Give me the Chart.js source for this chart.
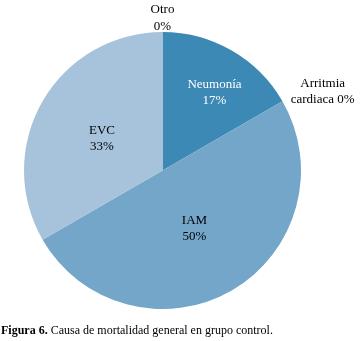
<!DOCTYPE html>
<html>
<head>
<meta charset="utf-8">
<script src="https://cdn.jsdelivr.net/npm/chart.js@4/dist/chart.umd.min.js"></script>
<style>
  body { margin:0; background:#fff; }
  #wrap { position:relative; width:360px; height:341px; }
  #caption { position:absolute; left:1px; top:323px; font-family:"Liberation Serif", serif; font-size:12px; color:#000; white-space:nowrap; }
</style>
</head>
<body>
<div id="wrap">
  <canvas id="pie-chart" width="360" height="341"></canvas>
  <div id="caption"><b>Figura 6.</b> Causa de mortalidad general en grupo control.</div>
</div>
<script>
categories = ['Neumonía', 'Arritmia cardiaca', 'IAM', 'EVC', 'Otro'];
values = [1, 0, 3, 2, 0];
percents = ['17%', '0%', '50%', '33%', '0%'];
colors = ['#3c89b6', '#73a6c9', '#73a6c9', '#a7c3dc', '#a7c3dc'];

// how the label text is split and where it sits (radius factor, angle nudge in degrees, colour)
labelLines = [['Neumonía', '17%'], ['Arritmia', 'cardiaca 0%'], ['IAM', '50%'], ['EVC', '33%'], ['Otro', '0%']];
labelRadius = [0.677, 1.29, 0.478, 0.494, 1.1];
labelNudge = [3.7, 3.7, 1.1, -2.1, 0];
labelColor = ['#ffffff', '#000', '#000', '#000', '#000'];

const pieLabels = {
  id: 'pieLabels',
  afterDatasetsDraw(chart) {
    const ctx = chart.ctx;
    const meta = chart.getDatasetMeta(0);
    ctx.save();
    ctx.font = '13px "Liberation Serif", serif';
    ctx.textAlign = 'center';
    ctx.textBaseline = 'middle';
    meta.data.forEach((arc, i) => {
      const p = arc.getProps(['x', 'y', 'startAngle', 'endAngle', 'outerRadius']);
      const mid = (p.startAngle + p.endAngle) / 2 + labelNudge[i] * Math.PI / 180;
      const r = p.outerRadius * labelRadius[i];
      const x = p.x + Math.cos(mid) * r;
      const y = p.y + Math.sin(mid) * r;
      ctx.fillStyle = labelColor[i];
      labelLines[i].forEach((line, k) => {
        ctx.fillText(line, x, y + (k - 0.5) * 16.5);
      });
    });
    ctx.restore();
  }
};

new Chart(document.getElementById('pie-chart'), {
  type: 'pie',
  data: {
    labels: categories,
    datasets: [{
      data: values,
      backgroundColor: colors,
      borderColor: '#ffffff',
      borderWidth: 0
    }]
  },
  options: {
    responsive: false,
    animation: false,
    layout: { padding: { top: 32, bottom: 32, left: 23, right: 58 } },
    plugins: {
      legend: { display: false },
      tooltip: { enabled: false }
    }
  },
  plugins: [pieLabels]
});
</script>
</body>
</html>
